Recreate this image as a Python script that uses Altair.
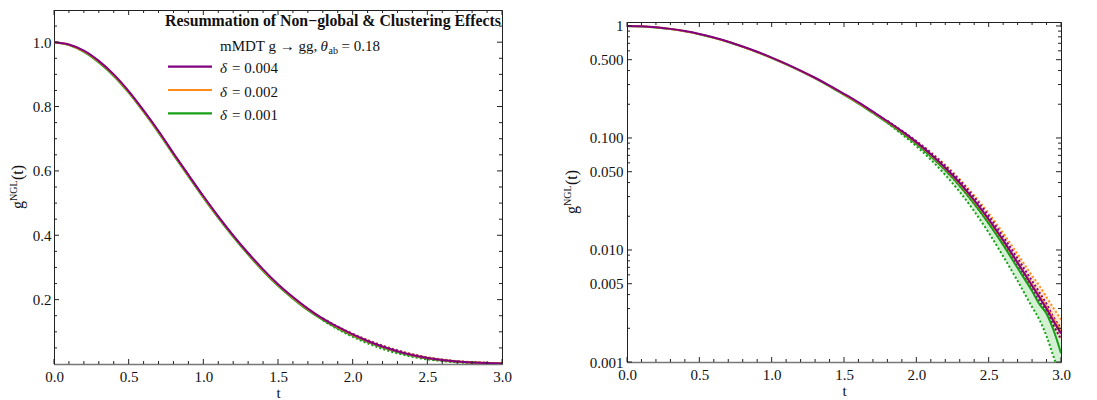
import altair as alt
import pandas as pd

# ---------------- data ----------------
t_vals = [0.0, 0.1, 0.2, 0.3, 0.4, 0.5, 0.6, 0.7, 0.8, 0.9, 1.0, 1.1, 1.2, 1.3, 1.4,
          1.5, 1.6, 1.7, 1.8, 1.9, 2.0, 2.1, 2.2, 2.3, 2.4, 2.5, 2.6, 2.7, 2.8, 2.85,
          2.9, 2.95, 3.0]
g_d004 = [1.000, 0.993, 0.974, 0.942, 0.900, 0.848, 0.788, 0.724, 0.655, 0.588, 0.522,
          0.459, 0.400, 0.345, 0.294, 0.248, 0.208, 0.172, 0.141, 0.115, 0.0918, 0.0716,
          0.0543, 0.0397, 0.0278, 0.0188, 0.0122, 0.0077, 0.0048, 0.0038, 0.0030, 0.0023, 0.0018]
g_d002 = [1.000, 0.992, 0.972, 0.940, 0.898, 0.846, 0.786, 0.722, 0.653, 0.586, 0.520,
          0.457, 0.398, 0.343, 0.292, 0.246, 0.206, 0.170, 0.140, 0.114, 0.0908, 0.0708,
          0.0536, 0.0392, 0.0275, 0.0186, 0.0121, 0.0077, 0.0049, 0.0039, 0.0031, 0.0024, 0.0019]
g_d001 = [1.000, 0.991, 0.970, 0.937, 0.895, 0.843, 0.783, 0.719, 0.650, 0.583, 0.517,
          0.454, 0.395, 0.340, 0.289, 0.243, 0.203, 0.167, 0.137, 0.111, 0.0885, 0.0686,
          0.0516, 0.0374, 0.0259, 0.0173, 0.0111, 0.0069, 0.0043, 0.0033, 0.0027, 0.0019, 0.0012]

t_band = [1.8, 1.9, 2.0, 2.1, 2.2, 2.3, 2.4, 2.5, 2.6, 2.7, 2.8, 2.85, 2.9, 2.95, 3.0]
lo_d004 = [0.140, 0.113, 0.0895, 0.0690, 0.0516, 0.0374, 0.0259, 0.0174, 0.0113, 0.0071, 0.0044, 0.0035, 0.0028, 0.0021, 0.0016]
hi_d004 = [0.142, 0.116, 0.0935, 0.0738, 0.0565, 0.0418, 0.0296, 0.0202, 0.0132, 0.0084, 0.0053, 0.0042, 0.0033, 0.0025, 0.0020]
lo_d002 = [0.139, 0.112, 0.0890, 0.0688, 0.0515, 0.0373, 0.0259, 0.0174, 0.0113, 0.0071, 0.0045, 0.0036, 0.0028, 0.0021, 0.0016]
hi_d002 = [0.142, 0.116, 0.0940, 0.0745, 0.0575, 0.0428, 0.0307, 0.0213, 0.0142, 0.0092, 0.0059, 0.0048, 0.0038, 0.0030, 0.0024]
lo_d001 = [0.136, 0.108, 0.0845, 0.0640, 0.0468, 0.0330, 0.0222, 0.0143, 0.0088, 0.0053, 0.0031, 0.0024, 0.0017, 0.0011, 0.0007]
hi_d001 = [0.140, 0.115, 0.0920, 0.0718, 0.0545, 0.0398, 0.0279, 0.0189, 0.0123, 0.0078, 0.0049, 0.0039, 0.0030, 0.0023, 0.0018]

series_names = ["δ = 0.004", "δ = 0.002", "δ = 0.001"]
legend_values = ["= 0.004", "= 0.002", "= 0.001"]
line_colors = ["#800080", "#ff8c1a", "#16a016"]
band_fills = ["#e6cde6", "#ffe0bf", "#c4ebc4"]

x_major = [0.0, 0.5, 1.0, 1.5, 2.0, 2.5, 3.0]
x_minor = [0.1, 0.2, 0.3, 0.4, 0.6, 0.7, 0.8, 0.9, 1.1, 1.2, 1.3, 1.4, 1.6, 1.7, 1.8, 1.9,
           2.1, 2.2, 2.3, 2.4, 2.6, 2.7, 2.8, 2.9]
ylin_major = [0.2, 0.4, 0.6, 0.8, 1.0]
ylin_minor = [0.05, 0.1, 0.15, 0.25, 0.3, 0.35, 0.45, 0.5, 0.55, 0.65, 0.7, 0.75, 0.85,
              0.9, 0.95, 1.05]
ylog_major = [0.001, 0.005, 0.01, 0.05, 0.1, 0.5, 1.0]
ylog_minor = [0.002, 0.003, 0.004, 0.006, 0.007, 0.008, 0.009, 0.02, 0.03, 0.04, 0.06,
              0.07, 0.08, 0.09, 0.2, 0.3, 0.4, 0.6, 0.7, 0.8, 0.9]

title_text = "Resummation of Non−global & Clustering Effects"
header_main = "mMDT g → gg,"
header_theta = "θ"
header_sub = "ab"
header_end = "= 0.18"
ytitle_g = "g"
ytitle_sup = "NGL"
ytitle_arg = "(t)"

# ---------------- frames ----------------
all_g = [g_d004, g_d002, g_d001]
all_lo = [lo_d004, lo_d002, lo_d001]
all_hi = [hi_d004, hi_d002, hi_d001]

lines_df = pd.concat([pd.DataFrame({"t": t_vals, "g": g, "series": s})
                      for g, s in zip(all_g, series_names)], ignore_index=True)
band_df = pd.concat([pd.DataFrame({"t": t_band, "lo": lo, "hi": hi, "series": s})
                     for lo, hi, s in zip(all_lo, all_hi, series_names)], ignore_index=True)

FONT = "Liberation Serif"
AX = "#222222"
TXT = "#111111"


def label(base, text, x, y, size=15, **kw):
    return base.mark_text(text=text, font=FONT, fontSize=size, align="left",
                          baseline="alphabetic", color=TXT, **kw).encode(
        x=alt.value(x), y=alt.value(y))


def panel(W, H, yscale, yaxis, ymaj, ymin, annotate, ytx):
    xs = alt.Scale(domain=[0, 3], nice=False, zero=False)
    xaxis = alt.Axis(values=x_major, format=".1f", tickSize=0, labelPadding=5, title="t",
                     titlePadding=1, grid=False, domainColor="#777777", domainWidth=1.6)
    X = lambda f: alt.X(f, scale=xs, axis=xaxis)
    Y = lambda f: alt.Y(f, scale=yscale, axis=yaxis)
    layers = []
    order = [2, 1, 0]
    for i in order:
        s = series_names[i]
        bd = alt.Chart(band_df).transform_filter(alt.datum.series == s)
        layers.append(bd.mark_area(color=band_fills[i], opacity=0.75, clip=True, interpolate="monotone").encode(
            x=X("t:Q"), y=Y("lo:Q"), y2="hi:Q"))
    for i in order:
        s = series_names[i]
        bd = alt.Chart(band_df).transform_filter(alt.datum.series == s)
        for col in ["lo", "hi"]:
            layers.append(bd.mark_line(color=line_colors[i], strokeWidth=2.0, strokeDash=[2, 2.2],
                                       clip=True, interpolate="monotone").encode(
                x=X("t:Q"), y=Y(f"{col}:Q")))
    for i in order:
        s = series_names[i]
        ld = alt.Chart(lines_df).transform_filter(alt.datum.series == s)
        layers.append(ld.mark_line(color=line_colors[i], strokeWidth=2.0, clip=True,
                                   interpolate="monotone").encode(
            x=X("t:Q"), y=Y("g:Q")))

    # frame ticks (inward)
    def xt(vals, L):
        d = pd.DataFrame({"v": vals})
        return [alt.Chart(d).mark_rule(color=AX, strokeWidth=1).encode(
                    x=X("v:Q"), y=alt.value(H), y2=alt.value(H - L)),
                alt.Chart(d).mark_rule(color=AX, strokeWidth=1).encode(
                    x=X("v:Q"), y=alt.value(0), y2=alt.value(L))]

    def yt(vals, L):
        d = pd.DataFrame({"v": vals})
        return [alt.Chart(d).mark_rule(color=AX, strokeWidth=1).encode(
                    y=Y("v:Q"), x=alt.value(0), x2=alt.value(L)),
                alt.Chart(d).mark_rule(color=AX, strokeWidth=1).encode(
                    y=Y("v:Q"), x=alt.value(W), x2=alt.value(W - L))]
    layers += xt(x_major, 5) + xt(x_minor, 3) + yt(ymaj, 5) + yt(ymin, 3)

    base = alt.Chart(pd.DataFrame({"a": [0]}))
    # rotated y title  g^NGL(t)
    cy = H / 2
    layers.append(label(base, ytitle_g, ytx, cy + 22, 16, angle=270))
    layers.append(label(base, ytitle_sup, ytx - 6, cy + 14, 10, angle=270))
    layers.append(label(base, ytitle_arg, ytx, cy - 7, 16, angle=270))

    if annotate:
        layers.append(base.mark_text(text=title_text, font=FONT, fontSize=15.8, fontWeight="bold",
                                     align="right", baseline="alphabetic", color=TXT).encode(
            x=alt.value(W - 1), y=alt.value(16)))
        layers.append(label(base, header_main, 166, 40.5))
        layers.append(label(base, header_theta, 266.5, 40.5, fontStyle="italic"))
        layers.append(label(base, header_sub, 274.5, 43.5, 10))
        layers.append(label(base, header_end, 287.5, 40.5))
        rows = [56.7, 80.0, 103.3]
        for i in range(3):
            yy = rows[i]
            layers.append(base.mark_rule(color=line_colors[i], strokeWidth=2.2).encode(
                x=alt.value(114), x2=alt.value(158), y=alt.value(yy)))
            layers.append(label(base, "δ", 166, yy + 6.5, fontStyle="italic"))
            layers.append(label(base, legend_values[i], 178, yy + 6.5))
    return alt.layer(*layers).properties(width=W, height=H)


ys_lin = alt.Scale(domain=[0, 1.1], nice=False, zero=False)
ax_lin = alt.Axis(values=ylin_major, format=".1f", tickSize=0, labelPadding=3, title="",
                  grid=False, domainColor=AX)
ys_log = alt.Scale(type="log", domain=[0.001, 1.085], nice=False)
ax_log = alt.Axis(values=ylog_major, tickSize=0, labelPadding=4, title="",
                  labelExpr="datum.value >= 1 ? '1' : format(datum.value, '.3f')",
                  grid=False, domainColor=AX)

left = panel(448, 354, ys_lin, ax_lin, ylin_major, ylin_minor, True, -31)
right_main = panel(434, 340, ys_log, ax_log, ylog_major, ylog_minor, False, -50)
spacer = alt.Chart(pd.DataFrame({"a": [0]})).mark_rule(opacity=0).encode(
    x=alt.value(0), x2=alt.value(1), y=alt.value(0)).properties(
    width=434, height=8, view=alt.ViewBackground(strokeOpacity=0))
right = alt.vconcat(spacer, right_main, spacing=0)

chart = alt.hconcat(left, right, spacing=50, padding={"left": 0, "top": 1, "right": 0, "bottom": 0}
                    ).configure_view(stroke=AX, strokeWidth=1).configure_axis(
    labelFont=FONT, labelFontSize=15, labelColor=TXT, titleFont=FONT, titleFontSize=15,
    titleFontWeight="normal", titleColor=TXT, labelFlush=False)

chart.save("out.html", embed_options={"renderer": "svg", "actions": False})
